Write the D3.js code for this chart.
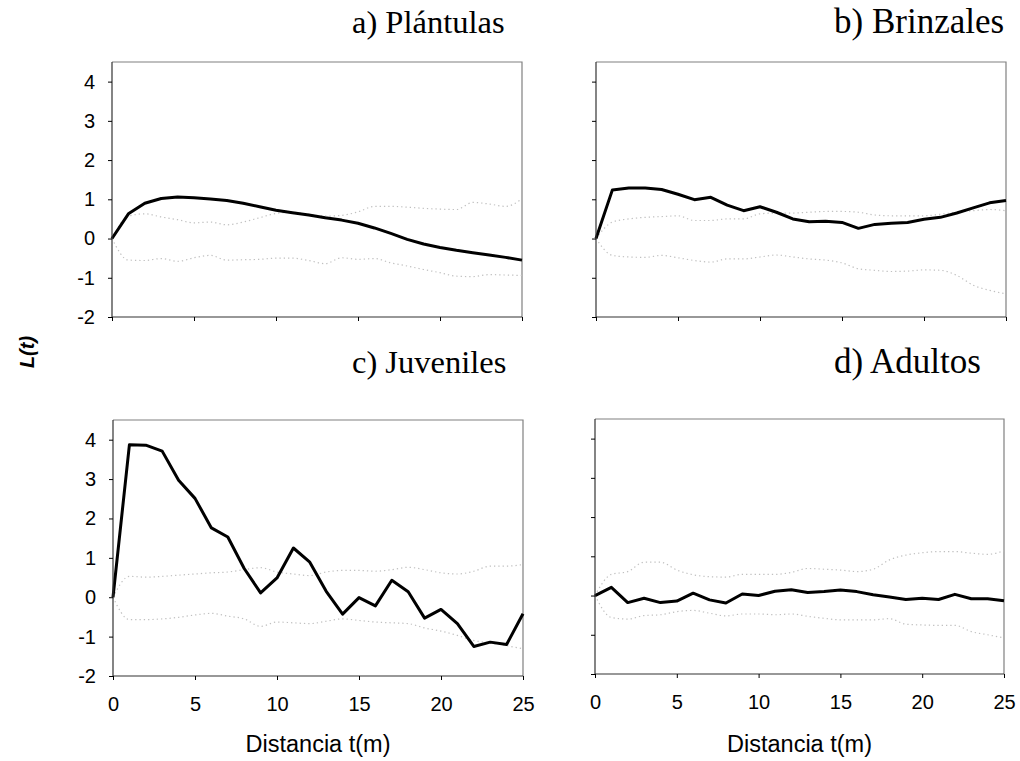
<!DOCTYPE html>
<html><head><meta charset="utf-8">
<script src="https://cdn.jsdelivr.net/npm/d3@7"></script>
<style>
body{margin:0;background:#fff;}
svg{display:block;}
</style></head>
<body>
<svg id="chart" width="1020" height="761"></svg>
<script>
const distances = d3.range(0, 26);
const xTicks = [0, 5, 10, 15, 20, 25];
const yTicks = [-2, -1, 0, 1, 2, 3, 4];
const panelTitles = ["a) Plántulas", "b) Brinzales", "c) Juveniles", "d) Adultos"];

const plantulasL = [0,0.63,0.90,1.02,1.06,1.04,1.01,0.97,0.90,0.81,0.72,0.66,0.60,0.53,0.47,0.39,0.27,0.13,-0.02,-0.14,-0.23,-0.30,-0.36,-0.42,-0.48,-0.55];
const plantulasUp = [0,0.57,0.63,0.55,0.48,0.40,0.42,0.35,0.42,0.53,0.64,0.67,0.62,0.57,0.59,0.68,0.82,0.82,0.80,0.77,0.75,0.74,0.92,0.88,0.82,1.01];
const plantulasLo = [0,-0.55,-0.56,-0.51,-0.58,-0.49,-0.43,-0.55,-0.54,-0.53,-0.50,-0.50,-0.56,-0.64,-0.49,-0.53,-0.51,-0.62,-0.70,-0.79,-0.87,-0.96,-0.97,-0.92,-0.93,-0.94];

const brinzalesL = [0,1.24,1.29,1.29,1.25,1.13,0.99,1.05,0.85,0.71,0.81,0.67,0.50,0.43,0.44,0.41,0.26,0.36,0.39,0.41,0.49,0.54,0.65,0.78,0.91,0.97];
const brinzalesUp = [0,0.42,0.50,0.54,0.56,0.58,0.46,0.46,0.50,0.50,0.63,0.65,0.65,0.67,0.69,0.69,0.67,0.60,0.58,0.58,0.58,0.62,0.67,0.71,0.74,0.71];
const brinzalesLo = [0,-0.43,-0.47,-0.48,-0.43,-0.49,-0.56,-0.60,-0.52,-0.52,-0.47,-0.42,-0.47,-0.52,-0.55,-0.62,-0.77,-0.81,-0.84,-0.83,-0.80,-0.81,-0.94,-1.19,-1.32,-1.41];

const juvenilesL = [0,3.87,3.86,3.71,2.97,2.51,1.76,1.53,0.73,0.11,0.49,1.25,0.89,0.15,-0.43,-0.01,-0.22,0.43,0.14,-0.53,-0.31,-0.67,-1.25,-1.14,-1.20,-0.42];
const juvenilesUp = [0,0.53,0.51,0.53,0.56,0.59,0.62,0.64,0.70,0.75,0.64,0.59,0.55,0.64,0.68,0.68,0.66,0.70,0.76,0.70,0.62,0.59,0.66,0.79,0.79,0.83];
const juvenilesLo = [0,-0.57,-0.57,-0.55,-0.51,-0.45,-0.41,-0.48,-0.55,-0.74,-0.63,-0.65,-0.67,-0.61,-0.55,-0.59,-0.63,-0.65,-0.67,-0.78,-0.86,-0.97,-1.10,-1.16,-1.23,-1.31];

const adultosL = [0,0.21,-0.18,-0.07,-0.18,-0.14,0.06,-0.11,-0.19,0.04,0.00,0.11,0.15,0.08,0.10,0.14,0.10,0.02,-0.04,-0.10,-0.07,-0.10,0.03,-0.08,-0.08,-0.13];
const adultosUp = [0,0.54,0.61,0.85,0.85,0.65,0.53,0.48,0.47,0.54,0.54,0.54,0.59,0.69,0.67,0.65,0.61,0.67,0.91,1.03,1.09,1.12,1.12,1.08,1.05,1.14];
const adultosLo = [0,-0.56,-0.60,-0.51,-0.49,-0.41,-0.38,-0.45,-0.52,-0.47,-0.47,-0.49,-0.47,-0.53,-0.58,-0.62,-0.62,-0.62,-0.59,-0.73,-0.75,-0.76,-0.76,-0.92,-1.00,-1.08];

const panels = [
  {title: panelTitles[0], L: plantulasL, up: plantulasUp, lo: plantulasLo, x0:112, x1:522, y0:62, y1:317, yLab:true, xLab:false, tx:352, ty:33, ts:32.5},
  {title: panelTitles[1], L: brinzalesL, up: brinzalesUp, lo: brinzalesLo, x0:596, x1:1006, y0:62, y1:317, yLab:false, xLab:false, tx:834, ty:33, ts:35},
  {title: panelTitles[2], L: juvenilesL, up: juvenilesUp, lo: juvenilesLo, x0:113, x1:523, y0:420, y1:676, yLab:true, xLab:true, tx:352, ty:373, ts:32.5},
  {title: panelTitles[3], L: adultosL, up: adultosUp, lo: adultosLo, x0:595, x1:1004, y0:419, y1:674, yLab:false, xLab:true, tx:834, ty:373, ts:35}
];

const sans = "Arial, 'Liberation Sans', sans-serif";
const svg = d3.select("#chart");

panels.forEach(p => {
  const x = d3.scaleLinear().domain([0, 25]).range([p.x0, p.x1]);
  const y = d3.scaleLinear().domain([-2, 4.5]).range([p.y1, p.y0]);
  const g = svg.append("g");

  g.append("path")
    .attr("d", `M${p.x0},${p.y0}H${p.x1}V${p.y1}`)
    .attr("fill", "none").attr("stroke", "#808080").attr("stroke-width", 1.2);

  const line = d3.line().x((d, i) => x(distances[i])).y(d => y(d));

  [p.up, p.lo].forEach(env => {
    g.append("path").datum(env).attr("d", line.curve(d3.curveMonotoneX))
      .attr("fill", "none").attr("stroke", "#c0c0c0").attr("stroke-width", 1.2)
      .attr("stroke-dasharray", "1.3,3");
  });
  g.append("path").datum(p.L).attr("d", line.curve(d3.curveLinear))
    .attr("fill", "none").attr("stroke", "#000").attr("stroke-width", 3)
    .attr("stroke-linejoin", "round");

  const yAxis = d3.axisLeft(y).tickValues(yTicks).tickSize(4).tickPadding(13)
    .tickFormat(p.yLab ? (d => String(d)) : () => "");
  const ya = g.append("g").attr("transform", `translate(${p.x0},0)`).call(yAxis);
  ya.select(".domain").attr("d", `M0,${p.y0}V${p.y1}`).attr("stroke", "#333").attr("stroke-width", 1.2);
  ya.selectAll("text").attr("font-family", sans).attr("font-size", 20).attr("fill", "#000");

  const xAxis = d3.axisBottom(x).tickValues(xTicks).tickSize(4).tickPadding(17)
    .tickFormat(p.xLab ? (d => String(d)) : () => "");
  const xa = g.append("g").attr("transform", `translate(0,${p.y1})`).call(xAxis);
  xa.select(".domain").attr("d", `M${p.x0},0H${p.x1}`).attr("stroke", "#333").attr("stroke-width", 1.2);
  xa.selectAll("text").attr("font-family", sans).attr("font-size", 20).attr("fill", "#000");

  svg.append("text").attr("x", p.tx).attr("y", p.ty)
    .attr("font-family", "'Liberation Serif', 'Times New Roman', serif")
    .attr("font-size", p.ts).attr("fill", "#000").text(p.title);

  if (p.xLab) {
    svg.append("text").attr("x", (p.x0 + p.x1) / 2).attr("y", 752)
      .attr("text-anchor", "middle")
      .attr("font-family", sans)
      .attr("font-size", 23.5).attr("fill", "#000").text("Distancia t(m)");
  }
});

svg.append("text")
  .attr("transform", "translate(34,352) rotate(-90)")
  .attr("text-anchor", "middle")
  .attr("font-family", sans)
  .attr("font-size", 20).attr("font-weight", "bold").attr("font-style", "italic")
  .attr("fill", "#000").text("L(t)");
</script>
</body></html>
